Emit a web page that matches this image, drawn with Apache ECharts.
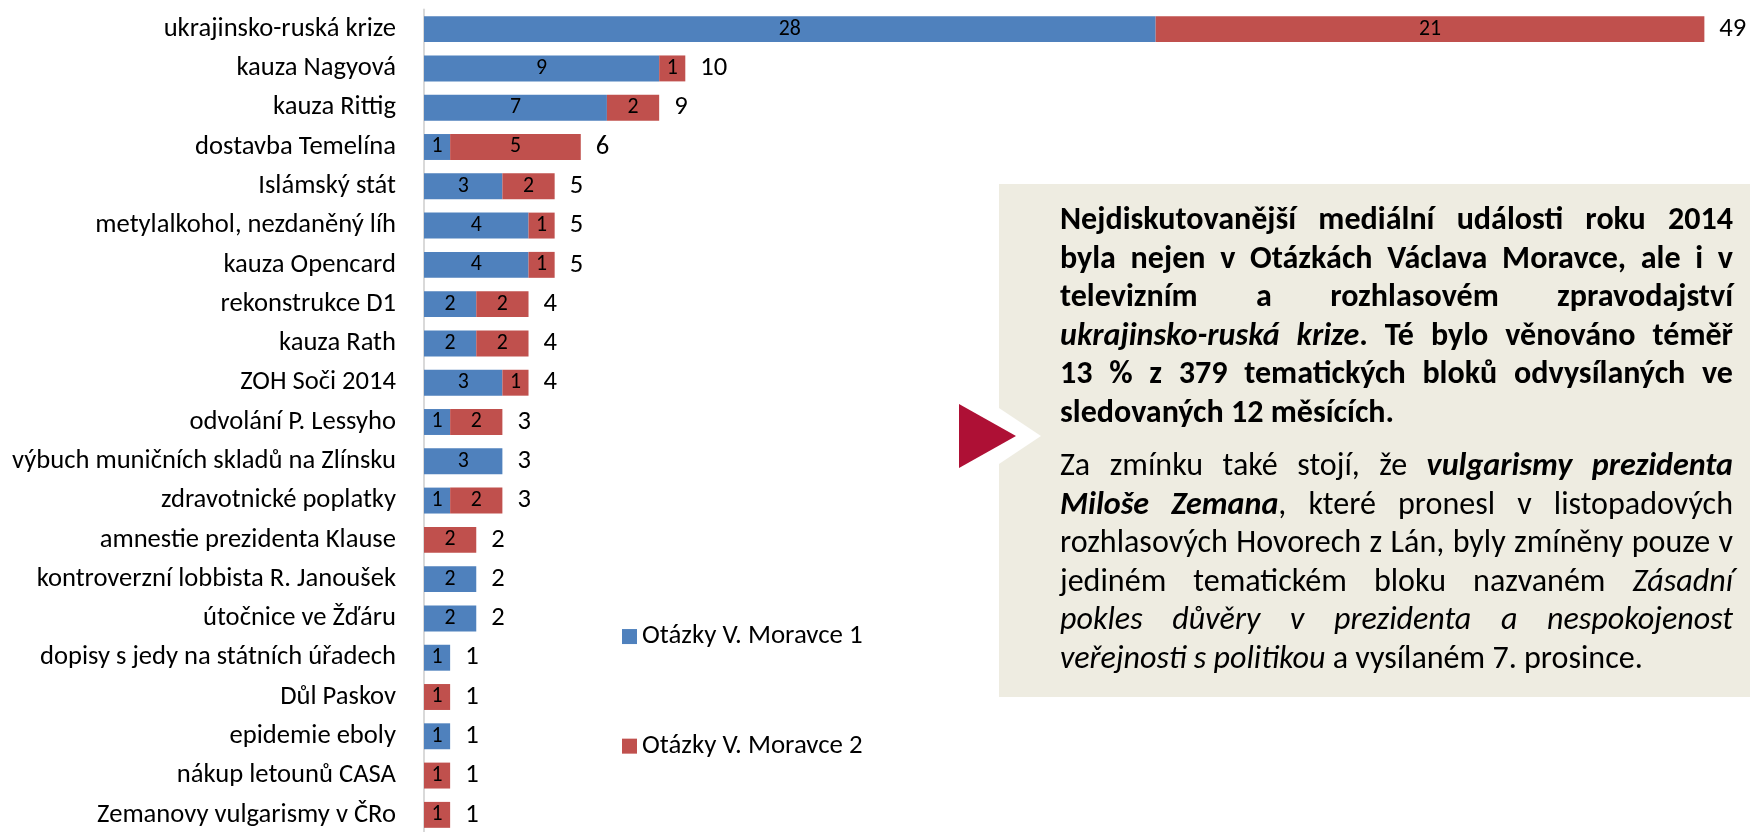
<!DOCTYPE html>
<html>
<head>
<meta charset="utf-8">
<script src="https://cdn.jsdelivr.net/npm/echarts@6/dist/echarts.min.js"></script>
<style>
html,body{margin:0;padding:0;background:#fff;}
#chart{width:1750px;height:832px;}
</style>
</head>
<body>
<div id="chart"></div>
<script>
// ---- data ----
const categories = ["ukrajinsko-ruská krize","kauza Nagyová","kauza Rittig","dostavba Temelína","Islámský stát","metylalkohol, nezdaněný líh","kauza Opencard","rekonstrukce D1","kauza Rath","ZOH Soči 2014","odvolání P. Lessyho","výbuch muničních skladů na Zlínsku","zdravotnické poplatky","amnestie prezidenta Klause","kontroverzní lobbista R. Janoušek","útočnice ve Žďáru","dopisy s jedy na státních úřadech","Důl Paskov","epidemie eboly","nákup letounů CASA","Zemanovy vulgarismy v ČRo"];
const seriesNames = ["Otázky V. Moravce 1","Otázky V. Moravce 2"];
const moravce1 = [28,9,7,1,3,4,4,2,2,3,1,3,1,0,2,2,1,0,1,0,0];
const moravce2 = [21,1,2,5,2,1,1,2,2,1,2,0,2,2,0,0,0,1,0,1,1];
const totals = moravce1.map((v,i)=>v+moravce2[i]);

// text box content: lines of words; each word is a list of [text, style] segments
// style: b = bold, i = italic, bi = bold italic, n = normal
const para1 = [
  {j:true, words:[[["Nejdiskutovanější","b"]],[["mediální","b"]],[["události","b"]],[["roku","b"]],[["2014","b"]]]},
  {j:true, words:[[["byla","b"]],[["nejen","b"]],[["v","b"]],[["Otázkách","b"]],[["Václava","b"]],[["Moravce,","b"]],[["ale","b"]],[["i","b"]],[["v","b"]]]},
  {j:true, words:[[["televizním","b"]],[["a","b"]],[["rozhlasovém","b"]],[["zpravodajství","b"]]]},
  {j:true, words:[[["ukrajinsko-ruská","bi"]],[["krize","bi"],[".","b"]],[["Té","b"]],[["bylo","b"]],[["věnováno","b"]],[["téměř","b"]]]},
  {j:true, words:[[["13","b"]],[["%","b"]],[["z","b"]],[["379","b"]],[["tematických","b"]],[["bloků","b"]],[["odvysílaných","b"]],[["ve","b"]]]},
  {j:false, words:[[["sledovaných","b"]],[["12","b"]],[["měsících.","b"]]]}
];
const para2 = [
  {j:true, words:[[["Za","n"]],[["zmínku","n"]],[["také","n"]],[["stojí,","n"]],[["že","n"]],[["vulgarismy","bi"]],[["prezidenta","bi"]]]},
  {j:true, words:[[["Miloše","bi"]],[["Zemana","bi"],[",","n"]],[["které","n"]],[["pronesl","n"]],[["v","n"]],[["listopadových","n"]]]},
  {j:true, words:[[["rozhlasových","n"]],[["Hovorech","n"]],[["z","n"]],[["Lán,","n"]],[["byly","n"]],[["zmíněny","n"]],[["pouze","n"]],[["v","n"]]]},
  {j:true, words:[[["jediném","n"]],[["tematickém","n"]],[["bloku","n"]],[["nazvaném","n"]],[["Zásadní","i"]]]},
  {j:true, words:[[["pokles","i"]],[["důvěry","i"]],[["v","i"]],[["prezidenta","i"]],[["a","i"]],[["nespokojenost","i"]]]},
  {j:false, words:[[["veřejnosti","i"]],[["s","i"]],[["politikou","i"]],[["a","n"]],[["vysílaném","n"]],[["7.","n"]],[["prosince.","n"]]]}
];

// ---- layout constants ----
const FONT = "Carlito, Lato, sans-serif";
const BOX = {x:999, y:184, w:751, h:513};
const TXT = {x:1060, w:673, y1:221, y2:467, lh:38.5};

const ctx = document.createElement('canvas').getContext('2d');
function fontStr(style,size){
  const it = (style==='i'||style==='bi') ? 'italic ' : '';
  const bw = (style==='b'||style==='bi') ? 'bold ' : '';
  return it + bw + size + 'px ' + FONT;
}
function plainW(text,size){ ctx.font = size + 'px ' + FONT; return ctx.measureText(text).width; }
function segW(seg,size){ ctx.font = fontStr(seg[1],size); return ctx.measureText(seg[0]).width; }
function wordW(w,size){ return w.reduce((a,s)=>a+segW(s,size),0); }
function spaceW(style,size){ ctx.font = fontStr(style,size); return ctx.measureText(' ').width; }
function naturalW(line,size){
  let t = 0;
  line.words.forEach((w,k)=>{ t += wordW(w,size); if(k<line.words.length-1) t += spaceW(w[w.length-1][1],size); });
  return t;
}
// font sizes matched to the reference text widths
const catSize = +(20 * 232 / plainW(categories[0], 20)).toFixed(1);
const innerSize = +(catSize * 0.82).toFixed(1);
const legSize = +(20 * 221 / plainW(seriesNames[0], 20)).toFixed(1);
let fsize = 26 * 583 / naturalW(para2[5], 26);
while (fsize > 12 && [...para1,...para2].some(l => naturalW(l,fsize) > TXT.w)) fsize -= 0.25;
fsize = +fsize.toFixed(2);

const textEls = [];
function layPara(lines, y0){
  lines.forEach((line, li)=>{
    const y = y0 + li*TXT.lh;
    const n = line.words.length;
    const sum = line.words.reduce((a,w)=>a+wordW(w,fsize),0);
    let x = TXT.x;
    line.words.forEach((w,k)=>{
      w.forEach(seg=>{
        textEls.push({type:'text', x:x, y:y, silent:true,
          style:{text:seg[0], font:fontStr(seg[1],fsize), fill:'#000', align:'left', verticalAlign:'middle'}});
        x += segW(seg,fsize);
      });
      if (k < n-1) x += line.j ? (TXT.w - sum)/(n-1) : spaceW(w[w.length-1][1],fsize);
    });
  });
}
layPara(para1, TXT.y1);
layPara(para2, TXT.y2);

const chart = echarts.init(document.getElementById('chart'), null, {renderer:'canvas'});
const innerLabel = {
  show:true, position:'inside', color:'#000', fontFamily:FONT, fontSize:innerSize,
  formatter: p => p.value ? String(p.value) : ''
};
chart.setOption({
  animation:false,
  backgroundColor:'#fff',
  grid:{left:424, top:9.5, width:1306.5, height:825, outerBoundsMode:'none', containLabel:false},
  xAxis:{type:'value', min:0, max:50, show:false},
  yAxis:{type:'category', data:categories, inverse:true,
    axisLine:{show:true, lineStyle:{color:'#d9d9d9', width:2}},
    axisTick:{show:false},
    splitLine:{show:false},
    axisLabel:{color:'#000', fontFamily:FONT, fontSize:catSize, margin:28}
  },
  legend:{
    data:seriesNames, orient:'vertical', left:617, top:631.5 - legSize/2, itemGap:109.5 - legSize,
    icon:'rect', itemWidth:15, itemHeight:15, itemStyle:{borderWidth:0},
    textStyle:{color:'#000', fontFamily:FONT, fontSize:legSize}
  },
  series:[
    {name:seriesNames[0], type:'bar', stack:'t', data:moravce1, barCategoryGap:'34%',
      itemStyle:{color:'#4F81BD'}, label:innerLabel},
    {name:seriesNames[1], type:'bar', stack:'t', data:moravce2,
      itemStyle:{color:'#C0504D'}, label:innerLabel},
    {name:'total', type:'bar', stack:'t', data:totals.map(()=>0), silent:true,
      itemStyle:{color:'transparent'},
      label:{show:true, position:'right', distance:15, color:'#000', fontFamily:FONT, fontSize:catSize,
        formatter: p => String(totals[p.dataIndex])}}
  ],
  graphic:[
    {type:'rect', silent:true, shape:{x:BOX.x, y:BOX.y, width:BOX.w, height:BOX.h}, style:{fill:'#EEECE1'}},
    {type:'polygon', silent:true, shape:{points:[[978,394],[1041,436],[978,478]]}, style:{fill:'#fff'}},
    {type:'polygon', silent:true, shape:{points:[[959,404],[1016,436],[959,468]]}, style:{fill:'#AE1035'}},
    ...textEls
  ]
});
</script>
</body>
</html>
